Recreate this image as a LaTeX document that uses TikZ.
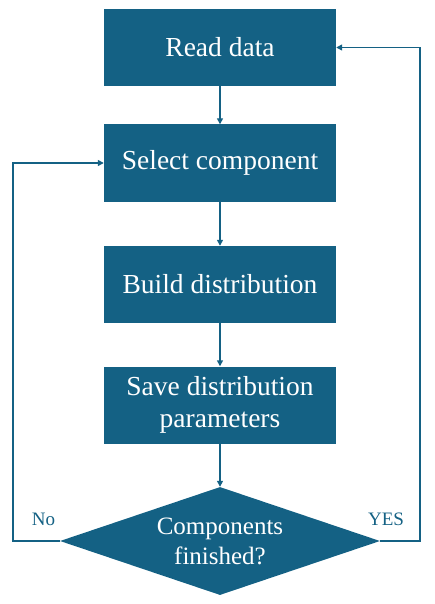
\documentclass[tikz,border=0pt]{standalone}
\usepackage{fontspec}
\setmainfont{Liberation Serif}
\usetikzlibrary{shapes.geometric,arrows.meta}
\definecolor{fc}{HTML}{146184}
\begin{document}
\begin{tikzpicture}[x=1pt,y=-1pt,
  stepbox/.style={draw=none,fill=fc,text=white,minimum width=232pt,minimum height=77pt,inner sep=0pt,align=center,font=\fontsize{27.5}{32}\selectfont},
  decbox/.style={shape=diamond,fill=fc,text=white,minimum width=320pt,minimum height=108pt,inner sep=0pt,aspect=2.96,align=center,font=\fontsize{25}{30}\selectfont},
  conn/.style={draw=fc,line width=1.4pt,-{Triangle[length=6pt,width=6pt]}},
  lbl/.style={text=fc,font=\fontsize{19}{22}\selectfont,inner sep=0pt}]
\useasboundingbox (0,0) rectangle (435,604);
\node[stepbox] (read) at (220,47.5) {Read data};
\node[stepbox] (sel) at (220,163) {Select component};
\node[stepbox] (build) at (220,284.5) {Build distribution};
\node[stepbox] (save) at (220,405) {Save distribution\\parameters};
\node[decbox] (dec) at (220,541) {Components\\finished?};
\coordinate (l1) at (13,541);
\coordinate (l2) at (13,163);
\coordinate (r1) at (420,541);
\coordinate (r2) at (420,47.5);
\draw[conn] (read) -- (sel);
\draw[conn] (sel) -- (build);
\draw[conn] (build) -- (save);
\draw[conn] (save) -- (dec);
\draw[conn] (dec.west) -- (l1) -- (l2) -- (sel.west);
\draw[conn] (dec.east) -- (r1) -- (r2) -- (read.east);
\node[lbl] (no) at (43.5,519) {No};
\node[lbl] (yes) at (386,519) {YES};
\end{tikzpicture}
\end{document}
